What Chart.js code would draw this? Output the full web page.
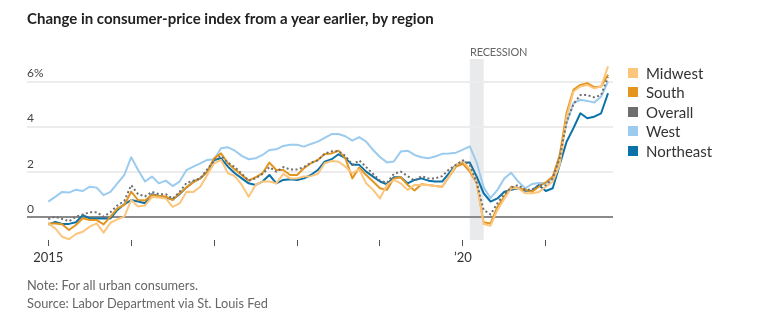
<!DOCTYPE html>
<html><head><meta charset="utf-8">
<script src="https://cdn.jsdelivr.net/npm/chart.js@4.4.1/dist/chart.umd.min.js"></script>
<style>
html,body{margin:0;padding:0;background:#fff;}
#wrap{position:relative;width:778px;height:321px;font-family:Lato,"Noto Sans",sans-serif;overflow:hidden;}
#title{position:absolute;left:27px;top:9px;font-size:15px;font-weight:bold;color:#222;white-space:nowrap;}
canvas{position:absolute;left:0;top:0;}
.note{position:absolute;left:27px;font-size:12.8px;color:#666;white-space:nowrap;}
#legend{position:absolute;left:628px;top:63px;}
.li{height:19.5px;display:flex;align-items:center;font-size:15px;color:#333;white-space:nowrap;}
.sw{width:10px;height:10px;margin-right:8px;flex:none;}
#rec{position:absolute;left:470px;top:45px;font-size:11px;color:#666;letter-spacing:-0.2px;}
</style></head>
<body>
<div id="wrap">
<canvas id="c" width="778" height="321"></canvas>
<div id="title">Change in consumer-price index from a year earlier, by region</div>
<div id="rec">RECESSION</div>
<div id="legend"></div>
<div class="note" style="top:277px">Note: For all urban consumers.</div>
<div class="note" style="top:295px">Source: Labor Department via St. Louis Fed</div>
</div>
<script>
// Month index 0 = Jan 2015 ... 81 = Oct 2021
const tickMonths = [0, 12, 24, 36, 48, 60, 72];
const tickLabels = ['2015', '', '', '', '', '\u201920', ''];
const yTicks = [0, 2, 4, 6];
const yTickLabels = ['0', '2', '4', '6%'];
const recessionStart = 61; // Feb 2020
const recessionEnd = 63;   // Apr 2020

const overall = [-0.1,0.0,-0.1,-0.2,0.0,0.1,0.2,0.2,0.0,0.2,0.5,0.7,
1.4,1.0,0.9,1.1,1.0,1.0,0.8,1.1,1.5,1.6,1.7,2.1,
2.5,2.7,2.4,2.2,1.9,1.6,1.7,1.9,2.2,2.0,2.2,2.1,
2.1,2.2,2.4,2.5,2.8,2.9,2.9,2.7,2.3,2.5,2.2,1.9,
1.6,1.5,1.9,2.0,1.8,1.6,1.8,1.7,1.7,1.8,2.1,2.3,
2.5,2.3,1.5,0.3,0.1,0.6,1.0,1.3,1.4,1.2,1.2,1.4,
1.4,1.7,2.6,4.2,5.0,5.4,5.4,5.3,5.4,6.2];

const west = [0.67,0.88,1.1,1.07,1.2,1.14,1.33,1.29,0.96,1.1,1.48,1.85,
2.64,2.07,1.56,1.78,1.48,1.6,1.36,1.56,2.07,2.22,2.37,2.52,
2.55,3.04,3.08,2.93,2.7,2.55,2.59,2.74,2.96,2.99,3.14,3.19,
3.19,3.11,3.23,3.33,3.5,3.67,3.67,3.57,3.38,3.53,3.33,2.96,
2.65,2.41,2.45,2.89,2.93,2.74,2.64,2.59,2.67,2.79,2.81,2.84,
2.98,3.12,2.4,1.3,0.82,1.19,1.7,1.95,1.56,1.26,1.45,1.5,
1.48,1.7,2.74,4.15,5.04,5.19,5.14,5.07,5.33,6.0];

const northeast = [-0.35,-0.23,-0.32,-0.32,-0.25,0.07,-0.08,-0.08,-0.08,-0.08,0.3,0.55,
0.74,0.67,0.6,1.0,0.92,0.85,0.76,1.0,1.3,1.55,1.7,2.0,
2.52,2.59,2.22,1.93,1.7,1.48,1.41,1.56,1.85,1.48,1.63,1.66,
1.63,1.7,1.85,2.07,2.44,2.55,2.77,2.6,2.3,2.3,2.0,1.78,
1.56,1.44,1.75,1.75,1.48,1.63,1.7,1.6,1.56,1.56,1.93,2.3,
2.4,2.4,1.78,1.04,0.67,0.81,1.11,1.19,1.26,1.15,1.15,1.4,
1.14,1.26,2.3,3.33,3.93,4.59,4.37,4.44,4.59,5.48];

const midwest = [-0.3,-0.52,-0.89,-1.0,-0.77,-0.67,-0.44,-0.3,-0.71,-0.27,-0.12,0.0,
0.74,0.45,0.5,0.87,0.85,0.81,0.44,0.59,1.11,1.1,1.33,1.85,
2.37,2.52,1.93,1.8,1.41,0.89,1.41,1.56,1.56,1.48,1.9,1.7,
1.7,1.78,1.8,1.9,2.37,2.47,2.44,2.22,1.93,2.1,1.48,1.19,
0.81,1.41,1.63,1.48,1.19,1.41,1.41,1.41,1.36,1.33,1.78,2.3,
2.47,2.1,1.5,-0.33,-0.4,0.3,0.8,1.26,1.26,1.04,1.04,1.1,
1.33,1.55,2.3,4.4,5.56,5.78,5.85,5.7,5.78,6.67];

const south = [-0.3,-0.3,-0.34,-0.59,-0.37,-0.07,-0.15,-0.15,-0.34,0.0,0.37,0.52,
1.11,0.74,0.72,0.96,0.92,0.9,0.74,1.04,1.3,1.53,1.7,2.0,
2.59,2.81,2.37,2.1,1.85,1.6,1.75,1.93,2.4,2.07,2.07,1.85,
1.85,2.15,2.37,2.52,2.78,2.81,2.93,2.59,1.7,2.18,1.85,1.56,
1.26,1.19,1.7,1.75,1.41,1.16,1.44,1.41,1.36,1.33,1.78,2.22,
2.35,2.0,1.5,-0.25,-0.3,0.44,0.89,1.33,1.26,1.2,1.11,1.33,
1.53,1.78,2.7,4.6,5.63,5.85,5.93,5.75,5.78,6.3];

const seriesNames = ['Midwest', 'South', 'Overall', 'West', 'Northeast'];
const seriesColors = ['#fcc57c', '#e3951f', '#6e6e6e', '#9bcbef', '#0a72a8'];
const seriesData = [midwest, south, overall, west, northeast];

// legend
const leg = document.getElementById('legend');
seriesNames.forEach((n, i) => {
  const d = document.createElement('div'); d.className = 'li';
  d.innerHTML = '<span class="sw" style="background:' + seriesColors[i] + '"></span>' + n;
  leg.appendChild(d);
});

function pts(arr) { return arr.map((v, i) => ({x: i, y: v})); }
function ds(idx, extra) {
  return Object.assign({
    label: seriesNames[idx], data: pts(seriesData[idx]),
    borderColor: seriesColors[idx], borderWidth: 2, pointRadius: 0,
    tension: 0, fill: false, borderJoinStyle: 'round'
  }, extra || {});
}

const recessionPlugin = {
  id: 'recession',
  beforeDraw(chart) {
    const {ctx, chartArea, scales} = chart;
    const x0 = scales.x.getPixelForValue(recessionStart);
    const x1 = scales.x.getPixelForValue(recessionEnd);
    ctx.save();
    ctx.fillStyle = '#e9eaec';
    ctx.fillRect(x0, chartArea.top, x1 - x0, chartArea.bottom - chartArea.top);
    ctx.restore();
  }
};

new Chart(document.getElementById('c'), {
  type: 'line',
  data: {
    datasets: [
      ds(2, {borderDash: [2, 2.5], borderWidth: 2}),
      ds(0), ds(1), ds(4), ds(3)
    ]
  },
  options: {
    responsive: false, animation: false,
    layout: {padding: {left: 27, right: 165, top: 59, bottom: 50}},
    plugins: {legend: {display: false}, tooltip: {enabled: false}},
    scales: {
      x: {
        type: 'linear', min: -3.08, max: 81.72,
        afterBuildTicks: s => { s.ticks = tickMonths.map(v => ({value: v})); },
        afterFit: s => { s.height = 31; },
        ticks: {
          autoSkip: false, maxRotation: 0, padding: 4.5,
          color: '#333', font: {family: 'Lato', size: 13},
          callback: (v) => { const k = tickMonths.indexOf(v); return k >= 0 ? tickLabels[k] : ''; }
        },
        grid: {drawOnChartArea: false, drawTicks: true, tickLength: 6, color: '#555', lineWidth: 1},
        border: {display: false}
      },
      y: {
        type: 'linear', min: -1.035, max: 7.0,
        afterBuildTicks: s => { s.ticks = yTicks.map(v => ({value: v})); },
        afterFit: s => { s.width = 0; },
        ticks: {
          mirror: true, padding: 0, labelOffset: -8,
          color: '#444', font: {family: 'Lato', size: 12},
          callback: (v) => { const k = yTicks.indexOf(v); return k >= 0 ? yTickLabels[k] : ''; }
        },
        grid: {
          drawTicks: false,
          color: c => c.tick && c.tick.value === 0 ? '#8a8a8a' : '#ececec',
          lineWidth: 2
        },
        border: {display: false}
      }
    }
  },
  plugins: [recessionPlugin]
});
</script>
</body></html>
